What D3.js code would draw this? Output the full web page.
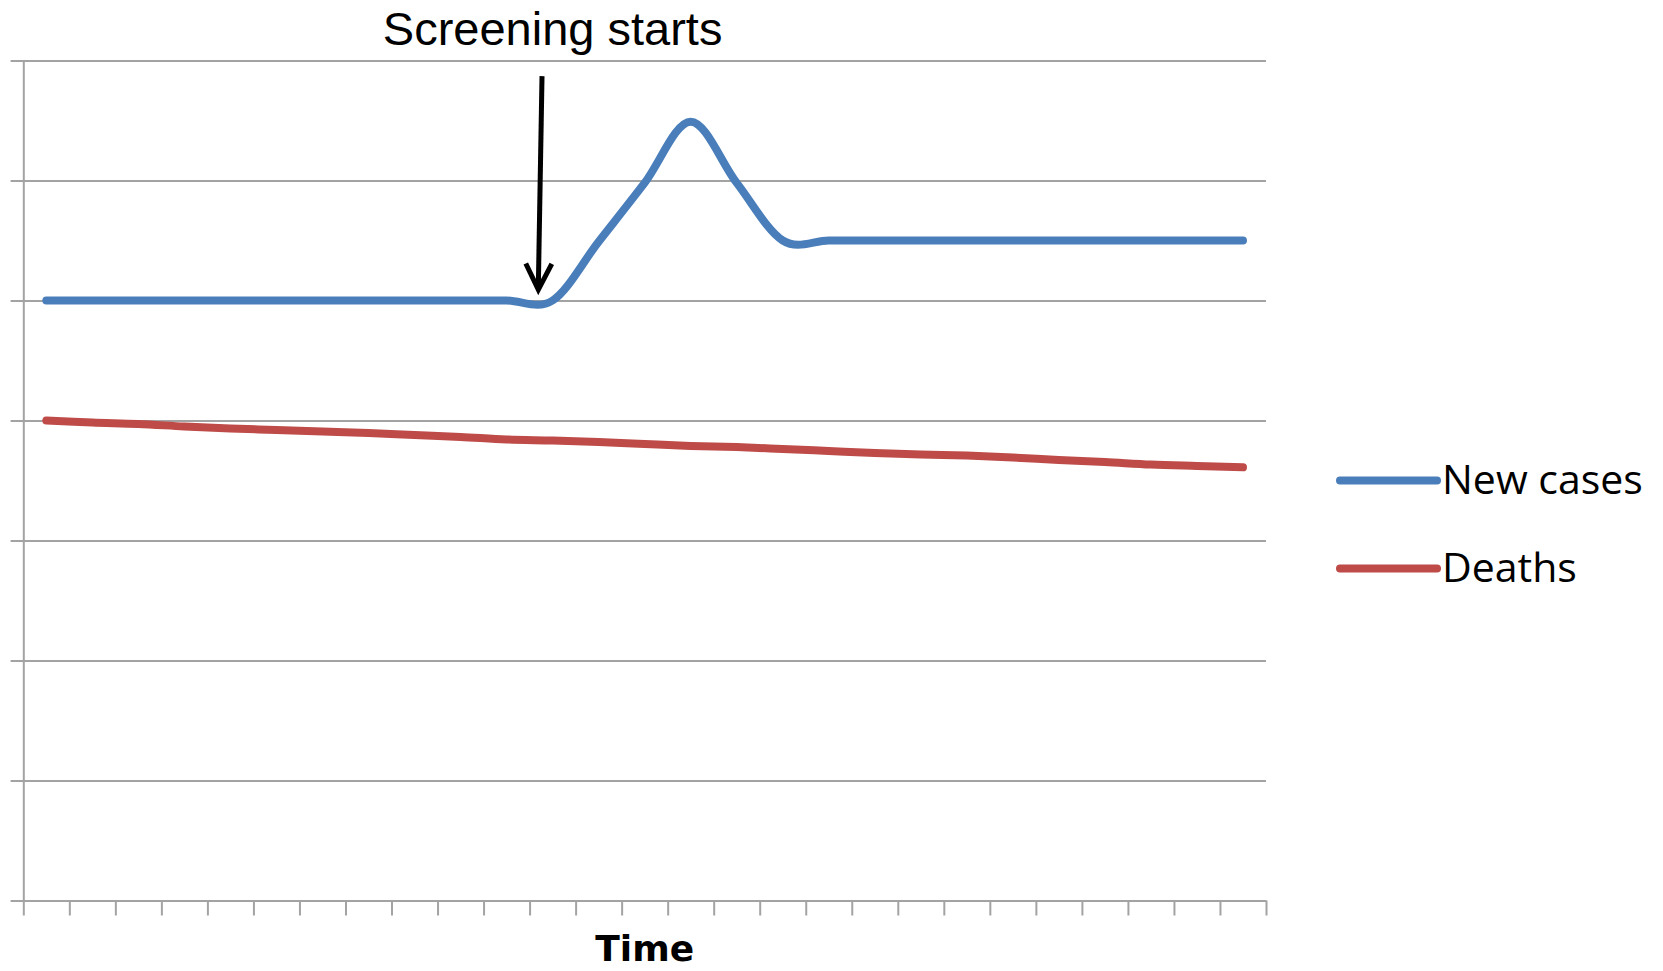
<!DOCTYPE html>
<html>
<head>
<meta charset="utf-8">
<script src="https://cdn.jsdelivr.net/npm/d3@7"></script>
<style>
  html, body { margin: 0; padding: 0; background: #ffffff; }
  svg { display: block; }
</style>
</head>
<body>
<svg id="chart" width="1663" height="971"></svg>
<script>
// ---- data ----
const categories = d3.range(1, 28);           // 27 unlabeled time periods
const yTicks = [0, 1, 2, 3, 4, 5, 6, 7];      // unlabeled value gridlines
const newCases = [5, 5, 5, 5, 5, 5, 5, 5, 5, 5, 5, 5, 5.49, 5.98, 6.49, 5.98, 5.5, 5.5, 5.5, 5.5, 5.5, 5.5, 5.5, 5.5, 5.5, 5.5, 5.5];
const deaths = [4.0, 3.983, 3.971, 3.95, 3.933, 3.921, 3.908, 3.896, 3.879, 3.863, 3.842, 3.833, 3.821, 3.804, 3.788, 3.779, 3.763, 3.746, 3.729, 3.717, 3.708, 3.692, 3.671, 3.654, 3.633, 3.621, 3.61];
const seriesNames = ["New cases", "Deaths"];
const seriesColors = ["#4a7ebb", "#be4b48"];
const xTitle = "Time";
const annotationText = "Screening starts";
// annotation position in data units (band index, value)
const annLabel = { x: 11.5, y: 7.13 };
const arrowFrom = { x: 11.27, y: 6.87 };
const arrowTo = { x: 11.19, y: 5.09 };

// ---- layout ----
const plotL = 23.3, plotR = 1266, plotT = 60.5, plotB = 900.5;
const svg = d3.select("#chart");

const x = d3.scaleLinear().domain([0, categories.length]).range([plotL, plotR]);
const y = d3.scaleLinear().domain([0, 7]).range([plotB, plotT]);
const gridColor = "#a3a3a3";

// horizontal gridlines + outward y ticks
const grid = svg.append("g")
  .attr("transform", `translate(${plotL - 12.7},0)`)
  .call(d3.axisRight(y).tickValues(yTicks).tickFormat("").tickSize(plotR - plotL + 12.7));
grid.select(".domain").remove();
grid.selectAll(".tick line").attr("stroke", gridColor).attr("stroke-width", 2);

// y axis vertical line
const yAxis = svg.append("g")
  .attr("transform", `translate(${plotL},0)`)
  .call(d3.axisLeft(y).tickValues([]).tickSizeOuter(0));
yAxis.select(".domain").attr("stroke", gridColor).attr("stroke-width", 2);

// x axis with ticks at category boundaries
const xAxis = svg.append("g")
  .attr("transform", `translate(0,${plotB})`)
  .call(d3.axisBottom(x).tickValues(d3.range(0, categories.length + 1)).tickFormat("").tickSize(15).tickSizeOuter(0));
xAxis.select(".domain").attr("stroke", gridColor).attr("stroke-width", 2);
xAxis.selectAll(".tick line").attr("stroke", gridColor).attr("stroke-width", 2);

// lines
const line = d3.line()
  .x((d, i) => x(i + 0.5))
  .y(d => y(d))
  .curve(d3.curveCatmullRom.alpha(0));

[newCases, deaths].forEach((s, k) => {
  svg.append("path")
    .datum(s)
    .attr("d", line)
    .attr("fill", "none")
    .attr("stroke", seriesColors[k])
    .attr("stroke-width", 8)
    .attr("stroke-linecap", "round")
    .attr("stroke-linejoin", "round");
});

// x title
svg.append("text")
  .attr("x", x(categories.length / 2))
  .attr("y", 961)
  .attr("text-anchor", "middle")
  .attr("font-family", "DejaVu Sans")
  .attr("font-weight", "bold")
  .attr("font-size", 36)
  .attr("fill", "#000")
  .text(xTitle);

// legend
const legendY = [480.5, 568.5];
seriesNames.forEach((name, k) => {
  svg.append("line")
    .attr("x1", 1340).attr("x2", 1437)
    .attr("y1", legendY[k]).attr("y2", legendY[k])
    .attr("stroke", seriesColors[k])
    .attr("stroke-width", 8)
    .attr("stroke-linecap", "round");
  svg.append("text")
    .attr("x", 1442)
    .attr("y", legendY[k] + 13)
    .attr("font-family", "Open Sans")
    .attr("font-size", 41)
    .attr("fill", "#000")
    .text(name);
});

// annotation
svg.append("text")
  .attr("x", x(annLabel.x))
  .attr("y", y(annLabel.y))
  .attr("text-anchor", "middle")
  .attr("font-family", "'Liberation Sans', Arial, sans-serif")
  .attr("font-size", 47)
  .attr("fill", "#000")
  .text(annotationText);

const ax0 = x(arrowFrom.x), ay0 = y(arrowFrom.y);
const ax1 = x(arrowTo.x), ay1 = y(arrowTo.y);
svg.append("line")
  .attr("x1", ax0).attr("y1", ay0)
  .attr("x2", ax1).attr("y2", ay1 - 3)
  .attr("stroke", "#000")
  .attr("stroke-width", 5);
const dx = ax1 - ax0, dy = ay1 - ay0, len = Math.hypot(dx, dy);
const ux = dx / len, uy = dy / len, px = -uy, py = ux;
const back = 26, wing = 13;
svg.append("path")
  .attr("d", d3.line()([
    [ax1 - ux * back + px * wing, ay1 - uy * back + py * wing],
    [ax1, ay1],
    [ax1 - ux * back - px * wing, ay1 - uy * back - py * wing]
  ]))
  .attr("fill", "none")
  .attr("stroke", "#000")
  .attr("stroke-width", 5)
  .attr("stroke-linejoin", "miter");
</script>
</body>
</html>
